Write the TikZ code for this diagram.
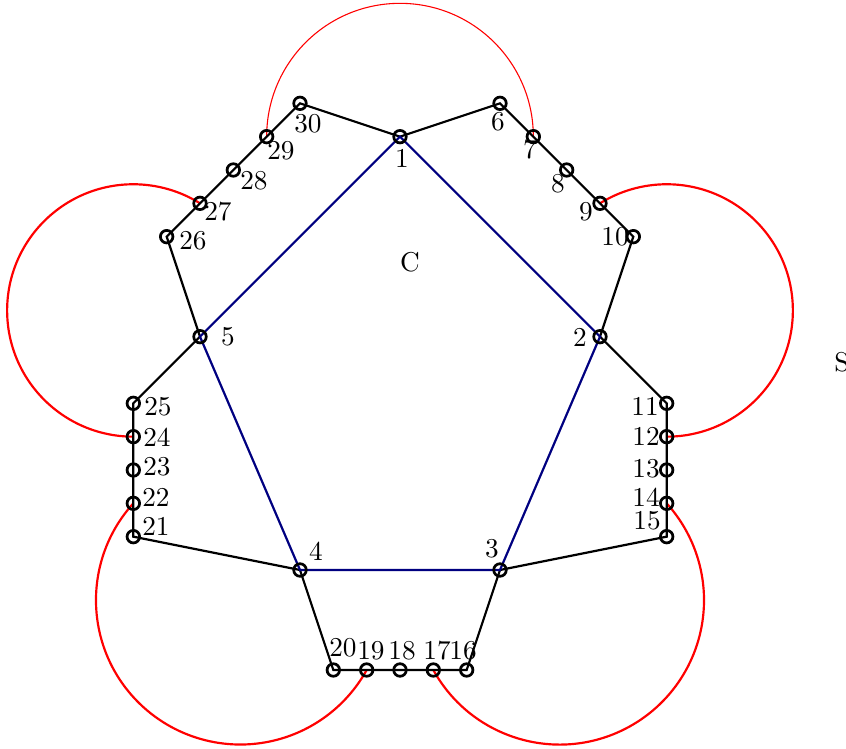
\documentclass[tikz,border=0pt]{standalone}
\begin{document}
\begin{tikzpicture}[x=0.43cm,y=0.43cm,
  vtx/.style={circle,draw=black,line width=1pt,inner sep=0pt,minimum size=4.6pt},
  edge/.style={draw=black,thick},
  pent/.style={draw=blue!50!black,thick},
  redarc/.style={draw=red,thick},
  thinarc/.style={draw=red,thin},
  lab/.style={inner sep=0pt,anchor=center}]
\useasboundingbox (-12,-5.37) rectangle (13.38,17.1);
% positions
\coordinate (p1) at (0,13);
\coordinate (p2) at (6,7);
\coordinate (p3) at (3,0);
\coordinate (p4) at (-3,0);
\coordinate (p5) at (-6,7);
\coordinate (p6) at (3,14);
\coordinate (p7) at (4,13);
\coordinate (p8) at (5,12);
\coordinate (p9) at (6,11);
\coordinate (p10) at (7,10);
\coordinate (p11) at (8,5);
\coordinate (p12) at (8,4);
\coordinate (p13) at (8,3);
\coordinate (p14) at (8,2);
\coordinate (p15) at (8,1);
\coordinate (p16) at (2,-3);
\coordinate (p17) at (1,-3);
\coordinate (p18) at (0,-3);
\coordinate (p19) at (-1,-3);
\coordinate (p20) at (-2,-3);
\coordinate (p21) at (-8,1);
\coordinate (p22) at (-8,2);
\coordinate (p23) at (-8,3);
\coordinate (p24) at (-8,4);
\coordinate (p25) at (-8,5);
\coordinate (p26) at (-7,10);
\coordinate (p27) at (-6,11);
\coordinate (p28) at (-5,12);
\coordinate (p29) at (-4,13);
\coordinate (p30) at (-3,14);
% red arcs
\draw[thinarc] (p7) arc[start angle=0,end angle=180,radius=4];
\draw[redarc] (p12) arc[start angle=-90,end angle=121.9,radius=3.786];
\draw[redarc] (p24) arc[start angle=270,end angle=58.1,radius=3.786];
\draw[redarc] (p22) arc[start angle=137.84,end angle=331.1,radius=4.33];
\draw[redarc] (p17) arc[start angle=208.9,end angle=402.16,radius=4.33];
% outer cycle
\draw[edge] (p1) -- (p6) -- (p7) -- (p8) -- (p9) -- (p10) -- (p2) -- (p11) -- (p12) -- (p13) -- (p14) -- (p15) -- (p3) -- (p16) -- (p17) -- (p18) -- (p19) -- (p20) -- (p4) -- (p21) -- (p22) -- (p23) -- (p24) -- (p25) -- (p5) -- (p26) -- (p27) -- (p28) -- (p29) -- (p30) -- (p1);
% pentagon
\draw[pent] (p1) -- (p2) -- (p3) -- (p4) -- (p5) -- cycle;
% vertices
\foreach \i in {1,...,30} { \node[vtx] (v\i) at (p\i) {}; }
% labels
\node[lab] (l1) at (0.06,12.36) {1};
\node[lab] (l2) at (5.4,6.99) {2};
\node[lab] (l3) at (2.76,0.63) {3};
\node[lab] (l4) at (-2.52,0.57) {4};
\node[lab] (l5) at (-5.16,6.99) {5};
\node[lab] (l6) at (2.94,13.44) {6};
\node[lab] (l7) at (3.9,12.6) {7};
\node[lab] (l8) at (4.74,11.58) {8};
\node[lab] (l9) at (5.58,10.74) {9};
\node[lab] (l10) at (6.45,9.99) {10};
\node[lab] (l11) at (7.35,4.92) {11};
\node[lab] (l12) at (7.38,4.02) {12};
\node[lab] (l13) at (7.38,3.03) {13};
\node[lab] (l14) at (7.38,2.19) {14};
\node[lab] (l15) at (7.41,1.47) {15};
\node[lab] (l16) at (1.89,-2.43) {16};
\node[lab] (l17) at (1.11,-2.43) {17};
\node[lab] (l18) at (0.06,-2.43) {18};
\node[lab] (l19) at (-0.87,-2.43) {19};
\node[lab] (l20) at (-1.71,-2.34) {20};
\node[lab] (l21) at (-7.32,1.32) {21};
\node[lab] (l22) at (-7.32,2.19) {22};
\node[lab] (l23) at (-7.29,3.09) {23};
\node[lab] (l24) at (-7.29,3.99) {24};
\node[lab] (l25) at (-7.26,4.89) {25};
\node[lab] (l26) at (-6.21,9.87) {26};
\node[lab] (l27) at (-5.46,10.74) {27};
\node[lab] (l28) at (-4.38,11.67) {28};
\node[lab] (l29) at (-3.57,12.57) {29};
\node[lab] (l30) at (-2.76,13.38) {30};
\node[lab] (lC) at (0.3,9.24) {C};
\node[lab] (lS) at (13.26,6.24) {S};
\end{tikzpicture}
\end{document}
